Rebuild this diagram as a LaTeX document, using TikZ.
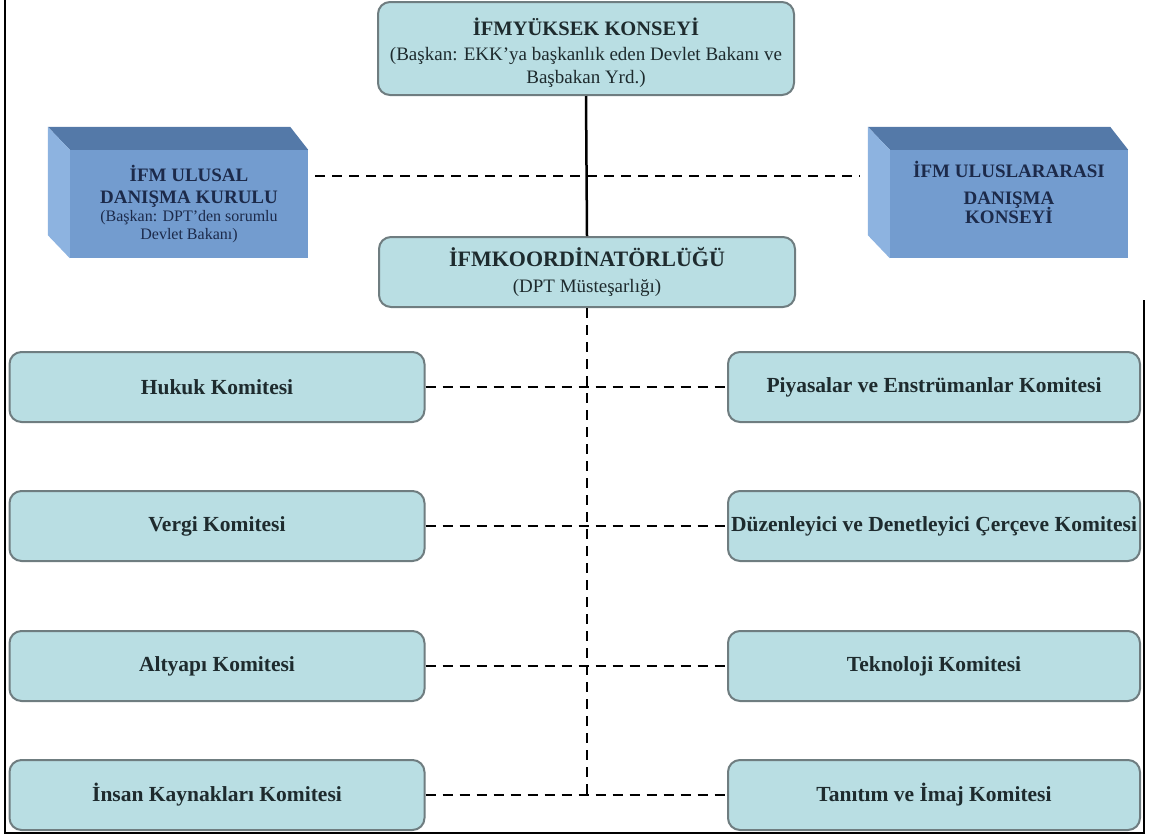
\documentclass[tikz,border=0pt]{standalone}
\usepackage{fontspec}
\setmainfont{Liberation Serif}
\usetikzlibrary{calc}

\definecolor{boxfill}{HTML}{B9DEE3}
\definecolor{boxedge}{HTML}{6F7D80}
\definecolor{textdark}{HTML}{1E2B2E}
\definecolor{cubefront}{HTML}{739CCF}
\definecolor{cubetop}{HTML}{5479A8}
\definecolor{cubeside}{HTML}{8DB3E0}
\definecolor{cubetext}{HTML}{1C2A4A}

\tikzset{
  unit/.style={draw=boxedge, line width=2pt, fill=boxfill, rounded corners=12pt,
    minimum width=415pt, minimum height=70pt, inner xsep=0pt, align=center,
    text=textdark, font=\bfseries\fontsize{21.5}{24}\selectfont},
  head/.style={unit, minimum width=416pt, font=\fontsize{19}{23}\selectfont},
  cube/.style={fill=cubefront, minimum width=238pt, minimum height=108pt,
    inner sep=0pt, align=center, text=cubetext, font=\bfseries\fontsize{19}{21}\selectfont},
  link/.style={line width=2.5pt, dash pattern=on 10pt off 7pt},
  chain/.style={line width=2.5pt}
}

\begin{document}
\begin{tikzpicture}[x=1pt, y=-1pt]
  \useasboundingbox (0,0) rectangle (1149,836);

  % Draw frame
  \draw [line width=2.5pt] (5,0) -- (5,833) -- (1144,833) -- (1144,300);

  % Draw top boxes
  \node [head, minimum height=93pt] (council) at (586,48.5)
    {\rule{0pt}{27pt}\bfseries\fontsize{20.5}{24}\selectfont İFMYÜKSEK KONSEYİ\\[2pt]
     (Başkan: EKK'ya başkanlık eden Devlet Bakanı ve\\
     Başbakan Yrd.)};
  \node [head] (coord) at (587,272)
    {\bfseries\fontsize{22}{26}\selectfont İFMKOORDİNATÖRLÜĞÜ\\[2pt]
     (DPT Müsteşarlığı)};

  % Draw cubes
  \node [cube] (national) at (189,204)
    {İFM ULUSAL\\[1pt]
     DANIŞMA KURULU\\[-3pt]
     \mdseries\fontsize{16}{18}\selectfont (Başkan: DPT'den sorumlu\\[-3pt]
     \mdseries\fontsize{16}{18}\selectfont Devlet Bakanı)};
  \node [cube] (global) at (1009,204)
    {İFM ULUSLARARASI\\[6pt]
     DANIŞMA\\[-2pt]
     KONSEYİ\\[2pt]};
  \foreach \c in {national,global} {
    \fill [cubetop] (\c.north west) -- ++(-22,-23) -- ($(\c.north east)+(-18,-23)$)
      -- (\c.north east) -- cycle;
    \fill [cubeside] (\c.north west) -- ++(-22,-23) -- ($(\c.south west)+(-22,-23)$)
      -- (\c.south west) -- cycle;
  }

  % Draw committees
  \node [unit] (law)    at (217,387) {Hukuk Komitesi};
  \node [unit] (tax)    at (217,526) {Vergi Komitesi};
  \node [unit] (infra)  at (217,666) {Altyapı Komitesi};
  \node [unit] (people) at (217,795) {İnsan Kaynakları Komitesi};
  \node [unit, minimum width=412pt] (market) at (934,387) {Piyasalar ve Enstrümanlar Komitesi};
  \node [unit, minimum width=412pt] (rules)  at (934,526) {Düzenleyici ve Denetleyici Çerçeve Komitesi};
  \node [unit, minimum width=412pt] (tech)   at (934,666) {Teknoloji Komitesi};
  \node [unit, minimum width=412pt] (image)  at (934,795) {Tanıtım ve İmaj Komitesi};

  % Draw links
  \coordinate (advice) at (586,176);
  \draw [chain] (council.south) -- (coord.north);
  \draw [link] ($(national.east |- advice)+(7,0)$) -- ($(global.west |- advice)+(-30,0)$);
  \draw [link] (coord.south) -- (coord.south |- people.east);
  \foreach \l/\r in {law/market,tax/rules,infra/tech,people/image}
    \draw [link] (\l.east) -- (\r.west);
\end{tikzpicture}
\end{document}
